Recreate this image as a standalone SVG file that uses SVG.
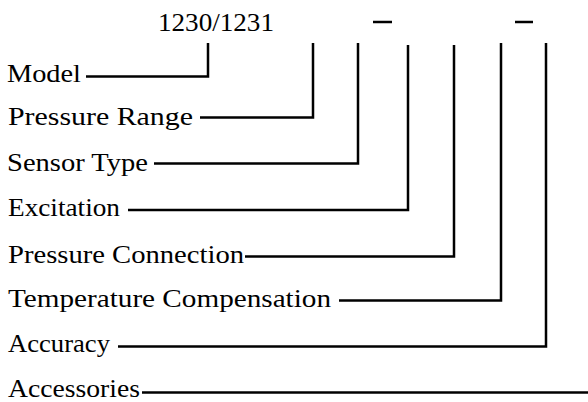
<svg xmlns="http://www.w3.org/2000/svg" width="588" height="402" viewBox="0 0 588 402">
<style>
text{font-family:"Liberation Serif","Times New Roman",serif;font-size:26px;fill:#000}
.c{fill:none;stroke:#000;stroke-width:2.5;stroke-linejoin:miter;stroke-linecap:butt}
</style>
<rect width="588" height="402" fill="#fff"/>
<g id="header">
<text x="158" y="31" textLength="116" lengthAdjust="spacingAndGlyphs">1230/1231</text>
<line class="c" x1="373" y1="22" x2="392" y2="22"/>
<line class="c" x1="515" y1="22" x2="533" y2="22"/>
</g>
<g id="model"><text x="7" y="82" textLength="74" lengthAdjust="spacingAndGlyphs">Model</text></g>
<g id="pressure-range"><text x="8" y="125" textLength="185" lengthAdjust="spacingAndGlyphs">Pressure Range</text></g>
<g id="sensor-type"><text x="7" y="171" textLength="141" lengthAdjust="spacingAndGlyphs">Sensor Type</text></g>
<g id="excitation"><text x="8" y="216" textLength="112" lengthAdjust="spacingAndGlyphs">Excitation</text></g>
<g id="pressure-connection"><text x="8" y="263" textLength="236" lengthAdjust="spacingAndGlyphs">Pressure Connection</text></g>
<g id="temperature-compensation"><text x="8" y="307" textLength="323" lengthAdjust="spacingAndGlyphs">Temperature Compensation</text></g>
<g id="accuracy"><text x="8" y="352" textLength="102" lengthAdjust="spacingAndGlyphs">Accuracy</text></g>
<g id="accessories"><text x="8" y="397" textLength="132" lengthAdjust="spacingAndGlyphs">Accessories</text></g>
<g id="connectors">
<path class="c" d="M86 76.5H208V43"/>
<path class="c" d="M200 117.5H313V43"/>
<path class="c" d="M154 163.5H358V43"/>
<path class="c" d="M128 210H408V45"/>
<path class="c" d="M245 256.5H454V45"/>
<path class="c" d="M339 300.5H501V43"/>
<path class="c" d="M118 346.5H546V43"/>
<path class="c" d="M142 392.5H588"/>
</g>
</svg>
